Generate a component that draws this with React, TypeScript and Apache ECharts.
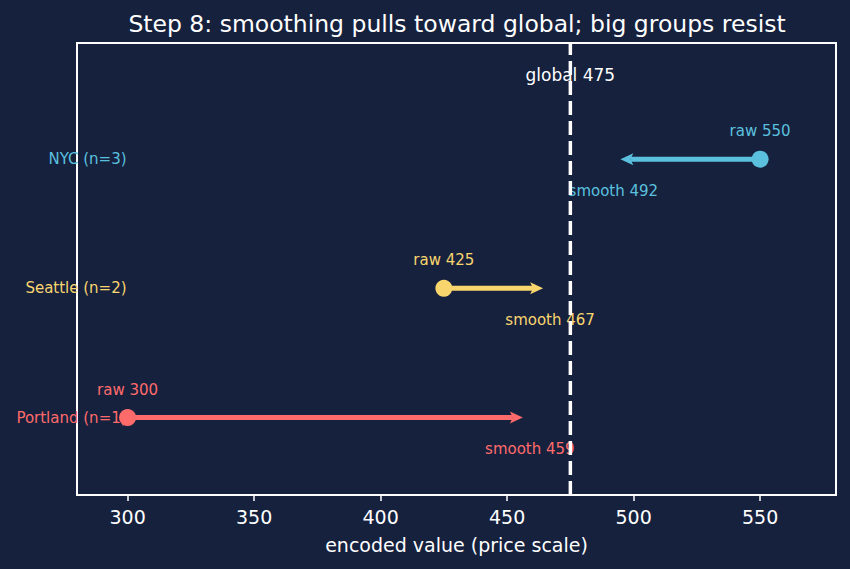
import React, { useEffect, useRef } from "react";
import * as echarts from "echarts";

// Groups, their raw (unsmoothed) means and smoothed encodings
const groups = ["Portland (n=1)", "Seattle (n=2)", "NYC (n=3)"];
const rawValues = [300, 425, 550];
const smoothValues = [459, 467, 492];
const groupColors = ["#ff6b6b", "#f9d56e", "#5bc0de"];

const globalMean = 475;
const globalLabelY = 2.65;
const groupLabelX = 300;

const xTicks = [300, 350, 400, 450, 500, 550];

const BG = "#16213e";
const FONT = "DejaVu Sans";

export default function App() {
  const ref = useRef<HTMLDivElement>(null);

  useEffect(() => {
    if (!ref.current) return;
    const chart = echarts.init(ref.current, null, { renderer: "svg" });

    const groupData = groups.map((_, i) => [rawValues[i], smoothValues[i], i]);

    const renderGroup = (params: any, api: any) => {
      const raw = api.value(0);
      const smooth = api.value(1);
      const idx = api.value(2);
      const color = groupColors[idx];
      const p0 = api.coord([raw, idx]);
      const p1 = api.coord([smooth, idx]);
      const dir = Math.sign(p1[0] - p0[0]) || 1;
      const shrink = 7;
      const headLen = 13;
      const headHalf = 6;
      const tipX = p1[0] - dir * shrink;
      const baseX = tipX - dir * headLen;
      const y = p0[1];
      const labelPos = api.coord([groupLabelX, idx]);

      return {
        type: "group",
        children: [
          {
            type: "text",
            style: {
              text: groups[idx],
              x: labelPos[0] - 1,
              y,
              fill: color,
              fontSize: 15,
              fontFamily: FONT,
              align: "right",
              verticalAlign: "middle",
            },
          },
          {
            type: "line",
            shape: { x1: p0[0], y1: y, x2: baseX + dir * 3, y2: y },
            style: { stroke: color, lineWidth: 5 },
          },
          {
            type: "polygon",
            shape: {
              points: [
                [tipX, y],
                [baseX, y - headHalf],
                [baseX + dir * 3, y],
                [baseX, y + headHalf],
              ],
            },
            style: { fill: color },
          },
          {
            type: "circle",
            shape: { cx: p0[0], cy: y, r: 8.5 },
            style: { fill: color },
          },
          {
            type: "text",
            style: {
              text: `raw ${raw}`,
              x: p0[0],
              y: y - 28,
              fill: color,
              fontSize: 15,
              fontFamily: FONT,
              align: "center",
              verticalAlign: "middle",
            },
          },
          {
            type: "text",
            style: {
              text: `smooth ${smooth}`,
              x: p1[0],
              y: y + 31.5,
              fill: color,
              fontSize: 15,
              fontFamily: FONT,
              align: "center",
              verticalAlign: "middle",
            },
          },
        ],
      };
    };

    const renderGlobal = (params: any, api: any) => {
      const g = api.value(0);
      const top = api.coord([g, 2.9]);
      const bottom = api.coord([g, -0.6]);
      const lbl = api.coord([g, api.value(1)]);
      return {
        type: "group",
        children: [
          {
            type: "text",
            style: {
              text: `global ${g}`,
              x: lbl[0],
              y: lbl[1],
              fill: "#ffffff",
              fontSize: 17,
              fontFamily: FONT,
              align: "center",
              verticalAlign: "middle",
            },
          },
          {
            type: "line",
            shape: { x1: bottom[0], y1: bottom[1], x2: top[0], y2: top[1] },
            style: { stroke: "#ffffff", lineWidth: 3.5, lineDash: [14, 6] },
          },
        ],
      };
    };

    chart.setOption({
      animation: false,
      backgroundColor: BG,
      textStyle: { fontFamily: FONT },
      graphic: [
        {
          type: "text",
          x: 457,
          y: 24,
          style: {
            text: "Step 8: smoothing pulls toward global; big groups resist",
            fill: "#ffffff",
            fontSize: 23.5,
            fontFamily: FONT,
            align: "center",
            verticalAlign: "middle",
          },
        },
      ],
      grid: {
        left: 77,
        right: 14,
        top: 43,
        bottom: 74,
        show: true,
        borderColor: "#ffffff",
        borderWidth: 2,
        backgroundColor: "transparent",
      },
      xAxis: {
        type: "value",
        min: 280,
        max: 580,
        name: "encoded value (price scale)",
        nameLocation: "middle",
        nameGap: 40,
        nameTextStyle: { color: "#ffffff", fontSize: 19, fontFamily: FONT },
        axisLine: {
          show: true,
          onZero: false,
          lineStyle: { color: "#ffffff", width: 2 },
        },
        axisTick: {
          show: true,
          length: 6,
          customValues: xTicks,
          lineStyle: { color: "#ffffff", width: 1.5 },
        },
        axisLabel: {
          customValues: xTicks,
          color: "#ffffff",
          fontSize: 19,
          fontFamily: FONT,
          margin: 12,
        },
        splitLine: { show: false },
      },
      yAxis: {
        type: "value",
        min: -0.6,
        max: 2.9,
        show: false,
        splitLine: { show: false },
      },
      series: [
        {
          type: "custom",
          name: "groups",
          renderItem: renderGroup,
          data: groupData,
          z: 2,
          clip: false,
        },
        {
          type: "custom",
          name: "global",
          renderItem: renderGlobal,
          data: [[globalMean, globalLabelY]],
          z: 5,
          clip: false,
        },
      ],
    });

    return () => chart.dispose();
  }, []);

  return (
    <div
      ref={ref}
      style={{ position: "fixed", left: 0, top: 0, width: 850, height: 569 }}
    />
  );
}
